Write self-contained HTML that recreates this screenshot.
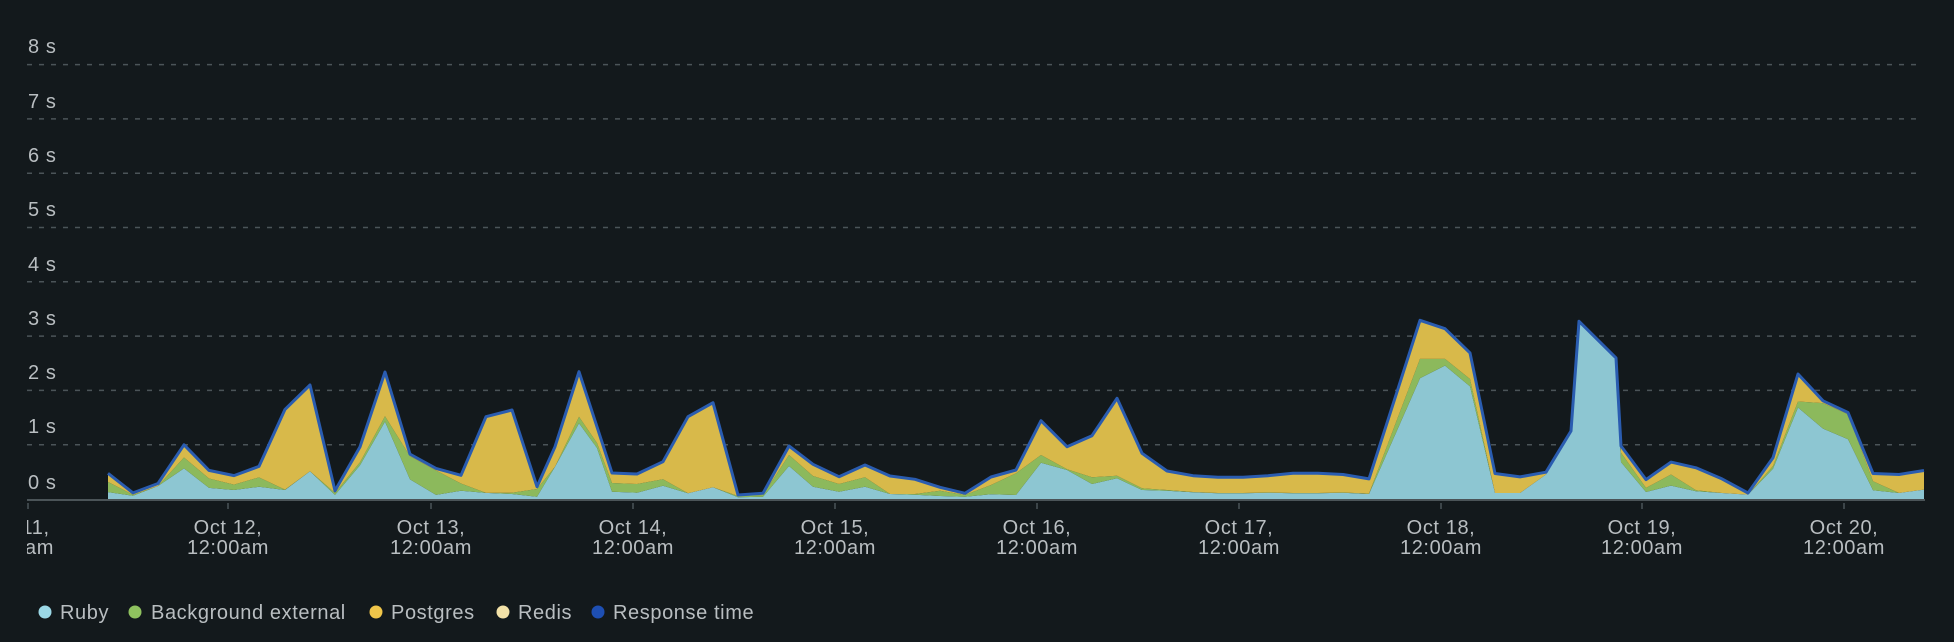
<!DOCTYPE html>
<html><head><meta charset="utf-8"><style>
html,body{margin:0;padding:0;background:#13191c;}
svg{display:block;}
text{font-family:"Liberation Sans",sans-serif;fill:#b9bec1;letter-spacing:0.6px;}
</style></head><body>
<svg id="c" width="1954" height="642" xmlns="http://www.w3.org/2000/svg">
<rect width="1954" height="642" fill="#13191c"/>
<g stroke="#4b5458" stroke-width="1.5" stroke-dasharray="5,7">
<line x1="27" x2="1916" y1="444.7" y2="444.7"/>
<line x1="27" x2="1916" y1="390.4" y2="390.4"/>
<line x1="27" x2="1916" y1="336.1" y2="336.1"/>
<line x1="27" x2="1916" y1="281.8" y2="281.8"/>
<line x1="27" x2="1916" y1="227.5" y2="227.5"/>
<line x1="27" x2="1916" y1="173.2" y2="173.2"/>
<line x1="27" x2="1916" y1="118.9" y2="118.9"/>
<line x1="27" x2="1916" y1="64.6" y2="64.6"/>
</g>
<g font-size="20">
<text x="28" y="489">0 s</text>
<text x="28" y="433">1 s</text>
<text x="28" y="379">2 s</text>
<text x="28" y="325">3 s</text>
<text x="28" y="271">4 s</text>
<text x="28" y="216">5 s</text>
<text x="28" y="162">6 s</text>
<text x="28" y="108">7 s</text>
<text x="28" y="53">8 s</text>
</g>
<g id="areas"></g>
<line x1="27" x2="1925" y1="500" y2="500" stroke="#4b5458" stroke-width="2"/>
<g stroke="#4b5458" stroke-width="1.5">
<line x1="28" x2="28" y1="503" y2="509"/><line x1="228" x2="228" y1="503" y2="509"/><line x1="431" x2="431" y1="503" y2="509"/><line x1="633" x2="633" y1="503" y2="509"/><line x1="835" x2="835" y1="503" y2="509"/><line x1="1037" x2="1037" y1="503" y2="509"/><line x1="1239" x2="1239" y1="503" y2="509"/><line x1="1441" x2="1441" y1="503" y2="509"/><line x1="1642" x2="1642" y1="503" y2="509"/><line x1="1844" x2="1844" y1="503" y2="509"/>
</g>
<defs><clipPath id="cl"><rect x="27" y="0" width="1927" height="642"/></clipPath></defs>
<g font-size="20" text-anchor="middle" clip-path="url(#cl)">
<text x="16" y="534">Oct 11,</text><text x="13" y="554">12:00am</text>
<text x="228" y="534">Oct 12,</text><text x="228" y="554">12:00am</text>
<text x="431" y="534">Oct 13,</text><text x="431" y="554">12:00am</text>
<text x="633" y="534">Oct 14,</text><text x="633" y="554">12:00am</text>
<text x="835" y="534">Oct 15,</text><text x="835" y="554">12:00am</text>
<text x="1037" y="534">Oct 16,</text><text x="1037" y="554">12:00am</text>
<text x="1239" y="534">Oct 17,</text><text x="1239" y="554">12:00am</text>
<text x="1441" y="534">Oct 18,</text><text x="1441" y="554">12:00am</text>
<text x="1642" y="534">Oct 19,</text><text x="1642" y="554">12:00am</text>
<text x="1844" y="534">Oct 20,</text><text x="1844" y="554">12:00am</text>
</g>
<g font-size="20">
<circle cx="45" cy="612" r="6.5" fill="#9bd8e6"/><text x="60" y="619">Ruby</text>
<circle cx="135" cy="612" r="6.5" fill="#8fc25f"/><text x="151" y="619">Background external</text>
<circle cx="376" cy="612" r="6.5" fill="#f0c64a"/><text x="391" y="619">Postgres</text>
<circle cx="503" cy="612" r="6.5" fill="#f3e2a8"/><text x="518" y="619">Redis</text>
<circle cx="598" cy="612" r="6.5" fill="#1e4fb3"/><text x="613" y="619">Response time</text>
</g>
</svg>
<script>
var d=[[108,473.3,481.9,492.1],[133,492.9,494.9,495.7],[158,483.5,486,486],[184,444.8,457.5,468.4],[209,470.4,478.5,487.9],[234,475.6,484.6,490],[259,466.4,477.4,486.8],[285,409.4,489.6,490],[310,385,471.3,471.3],[335,490.8,492.9,494.9],[360,446.9,462.3,465.2],[385,372,416.3,421.6],[410,454.2,456.2,479.4],[436,468.4,470.5,494.9],[461,475.3,483.5,490.8],[486,416.7,492.9,492.9],[512,410,492.7,494],[537,486.7,489,496.7],[555,446.7,466.7,466.7],[579,371.7,416.7,423.3],[597,426.8,443,448],[612,473,483,491.7],[637,474,484,492.7],[663,461.7,479.3,485.7],[688,416.7,493.3,493.3],[713,402.7,487.3,487.3],[738,495,496,497.3],[763,493.3,495,496.7],[789,446,455,466],[813,464.3,476,486.7],[839,476.7,484,491.7],[865,465,477.3,486.7],[890,476,494,494],[915,479.3,494,494.7],[940,487.3,490.7,496],[965,493.3,495,496.7],[991,477,485,494.3],[1016,470,473.3,495],[1041,420.7,455,462.7],[1067,446.7,469.3,470],[1092,435.7,477.3,484],[1117,398.3,475.7,478.3],[1142,453.3,488.3,490],[1167,471,490,490.7],[1193,475.7,492,492.3],[1218,477.3,493,493.3],[1243,477.3,493,493.3],[1268,475.7,492.5,492.7],[1293,473.3,493,493.3],[1318,473.3,493,493.3],[1343,474.5,492.5,492.7],[1369,478.9,493.6,494],[1420,320.3,358.9,378.3],[1445,328.7,358.9,365.6],[1470,352.9,379,386.4],[1495,473.5,493,493],[1520,476.9,493,493],[1546,472.2,474.5,474.5],[1571,431,431,431],[1579,321.3,321.3,321.3],[1616,357.9,357.9,357.9],[1621,446,452.7,462.1],[1646,479.6,487.9,492],[1671,462.1,474.5,485.6],[1696,467.8,490.3,491.3],[1722,478.9,493,493],[1748,493,494.6,494.6],[1773,457.8,466,468.8],[1798,374,401.5,407.5],[1823,400.8,403.1,428.6],[1848,412.5,414.2,439.3],[1873,473.5,481.2,490.3],[1899,474.5,493,493],[1924,470.5,489.6,489.6]];
function pts(k){return d.map(function(p){return p[0]+","+p[k];});}
function band(top,bot){return pts(top).concat(pts(bot).reverse()).join(" ");}
var base=d.map(function(p){return p[0]+",499";});
var ns="http://www.w3.org/2000/svg",g=document.getElementById("areas");
function poly(s,f){var e=document.createElementNS(ns,"polygon");e.setAttribute("points",s);e.setAttribute("fill",f);g.appendChild(e);}
poly(pts(3).concat(base.slice().reverse()).join(" "),"#8dc6d2");
poly(band(2,3),"#8cb95c");
poly(band(1,2),"#d8b94a");
var l=document.createElementNS(ns,"polyline");l.setAttribute("points",pts(1).join(" "));l.setAttribute("fill","none");l.setAttribute("stroke","#2a5cb0");l.setAttribute("stroke-width","3");l.setAttribute("stroke-linejoin","round");g.appendChild(l);
</script>
</body></html>
